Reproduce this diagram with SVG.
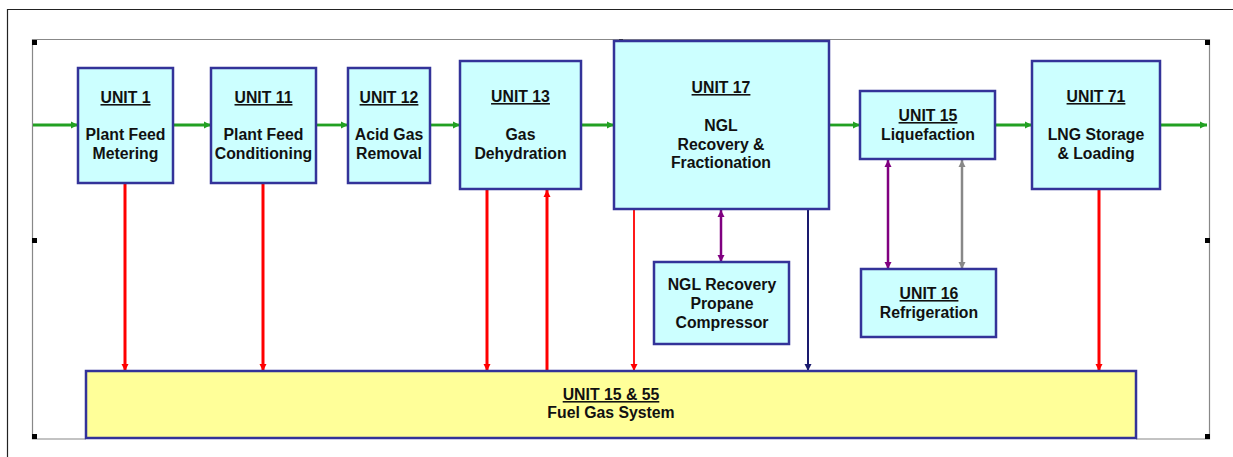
<svg xmlns="http://www.w3.org/2000/svg" width="1233" height="457" viewBox="0 0 1233 457">
<style>
.box{fill:#ccffff;stroke:#333399;stroke-width:2.5}
.fuel{fill:#ffff99;stroke:#333399;stroke-width:2.5}
text{font-family:"Liberation Sans",Arial,sans-serif;font-weight:bold;font-size:15.8px;fill:#111;text-anchor:middle}
.u{text-decoration:underline}
.g{stroke:#22a022;stroke-width:2.8;fill:none;marker-end:url(#ag)}
.r{stroke:#ff0000;stroke-width:3;fill:none}
.h{fill:#000}
</style>
<defs>
<marker id="ag" markerUnits="userSpaceOnUse" markerWidth="8" markerHeight="8" refX="7" refY="4" orient="auto"><path d="M0,0.5 L7,4 L0,7.5 Z" fill="#22a022"/></marker>
<marker id="ar" markerUnits="userSpaceOnUse" markerWidth="8" markerHeight="8" refX="7" refY="4" orient="auto"><path d="M0,0.5 L7,4 L0,7.5 Z" fill="#ff0000"/></marker>
<marker id="an" markerUnits="userSpaceOnUse" markerWidth="8" markerHeight="8" refX="7" refY="4" orient="auto"><path d="M0,0.5 L7,4 L0,7.5 Z" fill="#1a1a6e"/></marker>
<marker id="ap" markerUnits="userSpaceOnUse" markerWidth="8" markerHeight="8" refX="7" refY="4" orient="auto"><path d="M0,0.5 L7,4 L0,7.5 Z" fill="#800080"/></marker>
<marker id="ap0" markerUnits="userSpaceOnUse" markerWidth="8" markerHeight="8" refX="7" refY="4" orient="auto-start-reverse"><path d="M0,0.5 L7,4 L0,7.5 Z" fill="#800080"/></marker>
<marker id="ay" markerUnits="userSpaceOnUse" markerWidth="8" markerHeight="8" refX="7" refY="4" orient="auto"><path d="M0,0.5 L7,4 L0,7.5 Z" fill="#888888"/></marker>
<marker id="ay0" markerUnits="userSpaceOnUse" markerWidth="8" markerHeight="8" refX="7" refY="4" orient="auto-start-reverse"><path d="M0,0.5 L7,4 L0,7.5 Z" fill="#888888"/></marker>
</defs>
<rect width="1233" height="457" fill="#ffffff"/>
<g id="frame">
<path d="M7.5,457 V9.5 H1233" fill="none" stroke="#222" stroke-width="1.2"/>
<path d="M86,439 H32.5 V39.5 H1209.5 V439 H1136" fill="none" stroke="#888" stroke-width="1.2"/>
<rect class="h" x="32" y="40" width="5" height="5"/>
<rect class="h" x="32" y="238" width="5" height="5"/>
<rect class="h" x="32" y="434" width="5" height="5"/>
<rect class="h" x="1205" y="40" width="5" height="5"/>
<rect class="h" x="1205" y="238" width="5" height="5"/>
<rect class="h" x="1205" y="434" width="5" height="5"/>
<rect x="619" y="39" width="4" height="4" fill="#333"/>
<rect x="619" y="433" width="4" height="4" fill="#223"/>
</g>
<g id="connectors">
<line class="g" x1="33" y1="125" x2="78" y2="125"/>
<line class="g" x1="173" y1="125" x2="211" y2="125"/>
<line class="g" x1="316" y1="125" x2="348" y2="125"/>
<line class="g" x1="430" y1="125" x2="460" y2="125"/>
<line class="g" x1="581" y1="125" x2="614" y2="125"/>
<line class="g" x1="829" y1="125" x2="860" y2="125"/>
<line class="g" x1="995" y1="125" x2="1032" y2="125"/>
<line class="g" x1="1160" y1="125" x2="1207" y2="125"/>
<line class="r" x1="125" y1="184" x2="125" y2="371" marker-end="url(#ar)"/>
<line class="r" x1="263" y1="184" x2="263" y2="371" marker-end="url(#ar)"/>
<line class="r" x1="487" y1="190" x2="487" y2="371" marker-end="url(#ar)"/>
<line class="r" x1="547" y1="370" x2="547" y2="190" marker-end="url(#ar)"/>
<line x1="634" y1="210" x2="634" y2="371" stroke="#ff0000" stroke-width="1.8" marker-end="url(#ar)"/>
<line x1="808" y1="210" x2="808" y2="371" stroke="#1a1a6e" stroke-width="2" marker-end="url(#an)"/>
<line x1="721" y1="210" x2="721" y2="262" stroke="#800080" stroke-width="2.5" marker-start="url(#ap0)" marker-end="url(#ap)"/>
<line x1="888" y1="160" x2="888" y2="269" stroke="#800080" stroke-width="2.5" marker-start="url(#ap0)" marker-end="url(#ap)"/>
<line x1="962" y1="160" x2="962" y2="269" stroke="#888888" stroke-width="2.5" marker-start="url(#ay0)" marker-end="url(#ay)"/>
<line class="r" x1="1099" y1="190" x2="1099" y2="371" marker-end="url(#ar)"/>
</g>
<g id="unit1">
<rect class="box" x="78" y="68" width="95" height="115"/>
<text class="u" x="125.5" y="103">UNIT 1</text>
<text x="125.5" y="140">Plant Feed</text>
<text x="125.5" y="159">Metering</text>
</g>
<g id="unit11">
<rect class="box" x="211" y="68" width="105" height="115"/>
<text class="u" x="263.5" y="103">UNIT 11</text>
<text x="263.5" y="140">Plant Feed</text>
<text x="263.5" y="159">Conditioning</text>
</g>
<g id="unit12">
<rect class="box" x="348" y="68" width="82" height="115"/>
<text class="u" x="389" y="103">UNIT 12</text>
<text x="389" y="140">Acid Gas</text>
<text x="389" y="159">Removal</text>
</g>
<g id="unit13">
<rect class="box" x="460" y="61" width="121" height="128"/>
<text class="u" x="520.5" y="102">UNIT 13</text>
<text x="520.5" y="140">Gas</text>
<text x="520.5" y="159">Dehydration</text>
</g>
<g id="unit17">
<rect class="box" x="614" y="41" width="215" height="168"/>
<text class="u" x="721" y="93">UNIT 17</text>
<text x="721" y="131">NGL</text>
<text x="721" y="150">Recovery &amp;</text>
<text x="721" y="168">Fractionation</text>
</g>
<g id="ngl-compressor">
<rect class="box" x="654" y="262" width="135" height="82"/>
<text x="722" y="290">NGL Recovery</text>
<text x="722" y="309">Propane</text>
<text x="722" y="328">Compressor</text>
</g>
<g id="unit15">
<rect class="box" x="860" y="91" width="135" height="68"/>
<text class="u" x="928" y="121">UNIT 15</text>
<text x="928" y="140">Liquefaction</text>
</g>
<g id="unit16">
<rect class="box" x="861" y="269" width="135" height="68"/>
<text class="u" x="929" y="299">UNIT 16</text>
<text x="929" y="318">Refrigeration</text>
</g>
<g id="unit71">
<rect class="box" x="1032" y="61" width="128" height="128"/>
<text class="u" x="1096" y="102">UNIT 71</text>
<text x="1096" y="140">LNG Storage</text>
<text x="1096" y="159">&amp; Loading</text>
</g>
<g id="fuel-gas">
<rect class="fuel" x="86" y="371" width="1050" height="67"/>
<text class="u" x="611" y="400">UNIT 15 &amp; 55</text>
<text x="611" y="418">Fuel Gas System</text>
</g>
</svg>
